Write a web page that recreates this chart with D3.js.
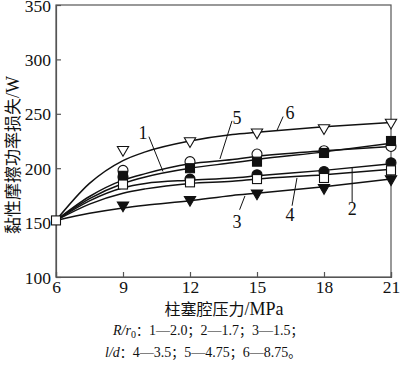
<!DOCTYPE html>
<html><head><meta charset="utf-8">
<script src="https://cdn.jsdelivr.net/npm/d3@7/dist/d3.min.js"></script>
<style>body{margin:0;background:#fff}svg{display:block}</style>
</head><body>
<svg id="c" width="400" height="365"></svg>
<script>
// ---- data ----
const xTicks = [6, 9, 12, 15, 18, 21];
const yTicks = [100, 150, 200, 250, 300, 350];
const markerX = [6, 9, 12, 15, 18, 21];
// measured points (markers)
const s1 = [152, 193, 200, 206, 214, 225]; // ■ R/r0=2.0
const s2 = [152, 192, 190, 194, 197, 205]; // ● R/r0=1.7
const s3 = [152, 166, 171, 177, 182, 190]; // ▼ R/r0=1.5
const s4 = [152, 185, 187, 190, 191, 198]; // □ l/d=3.5
const s5 = [152, 198, 206, 213, 216, 220]; // ○ l/d=4.75
const s6 = [152, 217, 225, 233, 237, 242]; // ▽ l/d=8.75
// fitted curves
const curveX = [6, 7.5, 9, 10, 12, 13.9, 15, 18, 21];
const c1 = [152, 172, 186, 192, 200, 205, 208, 215, 223];
const c2 = [152, 170, 182, 186, 189, 191, 193, 198, 204];
const c3 = [152, 158.5, 163.5, 166, 170, 175, 177, 183, 190];
const c4 = [152, 167, 177, 181, 186, 188, 190, 194, 199];
const c5 = [152, 174, 189, 195, 204, 208, 211, 216, 220];
const c6 = [152, 186, 207, 215, 225, 231, 233, 238, 242];
// curve labels and leaders (data units)
const labelText = ["1", "2", "3", "4", "5", "6"];
const labelPos = [[9.9, 232.5], [19.26, 162.7], [14.1, 150.7], [16.48, 157.2], [14.1, 246.7], [16.48, 251.3]];
const leaders = [[10.16, 229, 10.79, 197], [19.26, 168.3, 19.26, 200.5], [14.22, 161.8, 14.46, 174.5], [16.57, 165.5, 16.79, 191], [13.88, 243.5, 13.34, 208.5], [16.17, 247.5, 15.9, 235]];
const xTitle = "柱塞腔压力/MPa";
const yTitle = "黏性摩擦功率损失/W";

// ---- chart ----
const svg = d3.select("#c");
const L = 56, R = 391, T = 5, B = 277;
const x = d3.scaleLinear().domain([6, 21]).range([L, R]);
const y = d3.scaleLinear().domain([100, 350]).range([B, T]);
const serif = "'Liberation Serif','Times New Roman',serif";
const cjk = "'Noto Sans CJK SC',sans-serif";

// frame
svg.append("rect").attr("x", L).attr("y", T).attr("width", R - L).attr("height", B - T)
  .attr("fill", "none").attr("stroke", "#555").attr("stroke-width", 1.2);

const xa = svg.append("g").attr("transform", `translate(0,${B})`)
  .call(d3.axisBottom(x).tickValues(xTicks).tickSize(-5).tickPadding(3).tickFormat(d3.format("d")));
const ya = svg.append("g").attr("transform", `translate(${L},0)`)
  .call(d3.axisLeft(y).tickValues(yTicks).tickSize(-5).tickPadding(5).tickFormat(d3.format("d")));
[xa, ya].forEach(a => {
  a.select(".domain").attr("stroke", "#555").attr("stroke-width", 1.2);
  a.selectAll(".tick line").attr("stroke", "#555").attr("stroke-width", 1.2);
  a.selectAll("text").attr("font-family", serif).attr("font-size", 17.5).attr("fill", "#111");
});
xa.selectAll("text").attr("dy", "0.72em");
ya.selectAll("text").attr("dy", "0.35em");

// curves
const line = d3.line().x(d => x(d[0])).y(d => y(d[1])).curve(d3.curveMonotoneX);
[c1, c2, c3, c4, c5, c6].forEach(c => {
  svg.append("path").datum(curveX.map((v, i) => [v, c[i]]))
    .attr("d", line).attr("fill", "none").attr("stroke", "#111").attr("stroke-width", 1.5);
});

// markers
function pts(arr, from) { return markerX.map((v, i) => [v, arr[i]]).slice(from); }
const g = svg.append("g").attr("stroke", "#111").attr("stroke-width", 1.1);
g.selectAll(".o").data(pts(s5, 1)).join("circle").attr("cx", d => x(d[0])).attr("cy", d => y(d[1]))
  .attr("r", 5).attr("fill", "#fff");
g.selectAll(".f").data(pts(s2, 1)).join("circle").attr("cx", d => x(d[0])).attr("cy", d => y(d[1]))
  .attr("r", 5).attr("fill", "#111");
g.selectAll(".s").data(pts(s1, 1)).join("rect").attr("x", d => x(d[0]) - 4.5).attr("y", d => y(d[1]) - 4.5)
  .attr("width", 9).attr("height", 9).attr("fill", "#111");
g.selectAll(".q").data(pts(s4, 0)).join("rect").attr("x", d => x(d[0]) - 4.5).attr("y", d => y(d[1]) - 4.5)
  .attr("width", 9).attr("height", 9).attr("fill", "#fff");
const tri = d3.symbol().type(d3.symbolTriangle).size(55);
g.selectAll(".t").data(pts(s3, 1)).join("path").attr("d", tri)
  .attr("transform", d => `translate(${x(d[0])},${y(d[1])}) rotate(180)`).attr("fill", "#111");
g.selectAll(".v").data(pts(s6, 1)).join("path").attr("d", tri)
  .attr("transform", d => `translate(${x(d[0])},${y(d[1])}) rotate(180)`).attr("fill", "#fff");

// curve labels + leaders
leaders.forEach(l => {
  svg.append("line").attr("x1", x(l[0])).attr("y1", y(l[1])).attr("x2", x(l[2])).attr("y2", y(l[3]))
    .attr("stroke", "#111").attr("stroke-width", 1);
});
labelText.forEach((t, i) => {
  svg.append("text").attr("x", x(labelPos[i][0])).attr("y", y(labelPos[i][1])).attr("dy", "0.35em")
    .attr("text-anchor", "middle").attr("font-family", serif).attr("font-size", 18).attr("fill", "#111").text(t);
});

// axis titles
svg.append("text").attr("x", 224).attr("y", 315).attr("text-anchor", "middle")
  .attr("font-family", serif).attr("font-size", 18).attr("fill", "#111")
  .selectAll("tspan").data([[xTitle.slice(0, 5), cjk, 16], [xTitle.slice(5), serif, 18]]).join("tspan")
  .attr("font-family", d => d[1]).attr("font-size", d => d[2]).text(d => d[0]);
svg.append("text").attr("transform", "translate(19,155) rotate(-90)").attr("text-anchor", "middle")
  .attr("font-family", serif).attr("fill", "#111")
  .selectAll("tspan").data([[yTitle.slice(0, 8), cjk, 17], [yTitle.slice(8), serif, 18]]).join("tspan")
  .attr("font-family", d => d[1]).attr("font-size", d => d[2]).text(d => d[0]);

// legend notes
const n1 = svg.append("text").attr("x", 113).attr("y", 335).attr("font-family", serif).attr("font-size", 14).attr("fill", "#111");
n1.append("tspan").attr("font-style", "italic").text("R/r");
n1.append("tspan").attr("font-size", 10).attr("dy", 3).text("0");
n1.append("tspan").attr("dy", -3).attr("font-family", cjk).attr("font-size", 13).text("：");
n1.append("tspan").text("1—2.0");
n1.append("tspan").attr("font-family", cjk).attr("font-size", 13).text("；");
n1.append("tspan").text("2—1.7");
n1.append("tspan").attr("font-family", cjk).attr("font-size", 13).text("；");
n1.append("tspan").text("3—1.5");
n1.append("tspan").attr("font-family", cjk).attr("font-size", 13).text("；");
const n2 = svg.append("text").attr("x", 105).attr("y", 357).attr("font-family", serif).attr("font-size", 14).attr("fill", "#111");
n2.append("tspan").attr("font-style", "italic").text("l/d");
n2.append("tspan").attr("font-family", cjk).attr("font-size", 13).text("：");
n2.append("tspan").text("4—3.5");
n2.append("tspan").attr("font-family", cjk).attr("font-size", 13).text("；");
n2.append("tspan").text("5—4.75");
n2.append("tspan").attr("font-family", cjk).attr("font-size", 13).text("；");
n2.append("tspan").text("6—8.75");
n2.append("tspan").attr("font-family", cjk).attr("font-size", 13).text("。");
</script>
</body></html>
